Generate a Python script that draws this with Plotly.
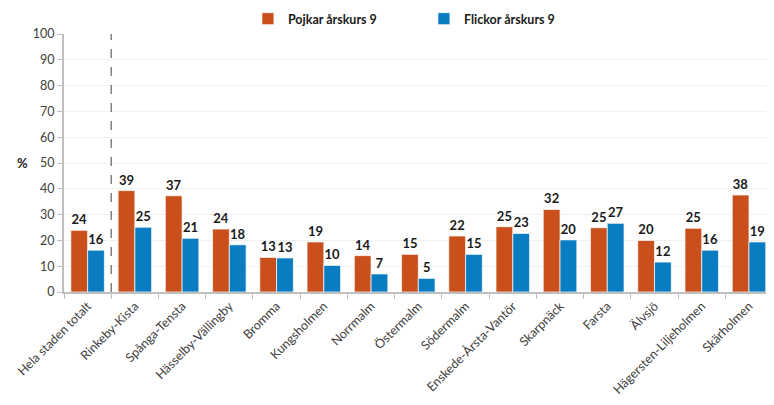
import plotly.graph_objects as go

categories = ["Hela staden totalt", "Rinkeby-Kista", "Spånga-Tensta", "Hässelby-Vällingby",
              "Bromma", "Kungsholmen", "Norrmalm", "Östermalm", "Södermalm",
              "Enskede-Årsta-Vantör", "Skarpnäck", "Farsta", "Älvsjö",
              "Hägersten-Liljeholmen", "Skärholmen"]
pojkar = [23.9, 39.3, 37.3, 24.4, 13.4, 19.4, 14.1, 14.6, 21.7, 25.3, 32.0, 24.9, 20.0, 24.7, 37.6]
flickor = [16.2, 25.1, 20.8, 18.3, 13.2, 10.3, 7.0, 5.3, 14.6, 22.7, 20.2, 26.6, 11.6, 16.2, 19.4]
y_ticks = [0, 10, 20, 30, 40, 50, 60, 70, 80, 90, 100]

FONT = "Lato"
fig = go.Figure()
fig.add_trace(go.Bar(
    x=categories, y=pojkar, name="<b>Pojkar årskurs 9</b>",
    marker=dict(color="#C9501C", line=dict(color="rgba(255,255,255,0.7)", width=1)),
    texttemplate="<b>%{y:.0f}</b>", textposition="outside", cliponaxis=False,
    textfont=dict(family=FONT, size=13, color="#1a1a1a"),
))
fig.add_trace(go.Bar(
    x=categories, y=flickor, name="<b>Flickor årskurs 9</b>",
    marker=dict(color="#0A7CC1", line=dict(color="rgba(255,255,255,0.7)", width=1)),
    texttemplate="<b>%{y:.0f}</b>", textposition="outside", cliponaxis=False,
    textfont=dict(family=FONT, size=13, color="#1a1a1a"),
))

fig.add_shape(type="line", xref="x", yref="y", x0=0.5, x1=0.5, y0=0, y1=101.5,
              line=dict(color="#808080", width=1.5, dash="dash"))
fig.add_annotation(text="<b>%</b>", xref="paper", yref="y", x=-0.059, y=50,
                   showarrow=False, xanchor="center",
                   font=dict(family=FONT, size=13, color="#1a1a1a"))

fig.update_layout(
    width=758, height=389,
    margin=dict(l=56, r=0, t=26, b=105, autoexpand=False),
    paper_bgcolor="white", plot_bgcolor="white",
    barmode="group", bargap=0.29, bargroupgap=0.0,
    font=dict(family=FONT, size=12, color="#404040"),
    legend=dict(orientation="h", x=0.262, y=1.116, xanchor="left", yanchor="top",
                yref="paper",
                font=dict(family=FONT, size=12.5, color="#1a1a1a"),
                entrywidth=131, itemwidth=30),
    showlegend=True,
)

fig.update_yaxes(range=[0, 100], tickvals=y_ticks, showgrid=True, gridcolor="#F0F0F0",
                 gridwidth=1, showline=True, linecolor="#BFBFBF", linewidth=2,
                 ticks="outside", ticklen=5, tickcolor="#BFBFBF",
                 tickfont=dict(family=FONT, size=12.5, color="#404040"), zeroline=False)
fig.update_xaxes(type="category", range=[-0.5, 14.36], showline=True, linecolor="#BFBFBF",
                 linewidth=2, ticks="outside", tickson="boundaries", ticklen=5,
                 tickcolor="#BFBFBF", tickangle=-45,
                 tickfont=dict(family=FONT, size=12.5, color="#404040"))

fig.write_html("out.html")
